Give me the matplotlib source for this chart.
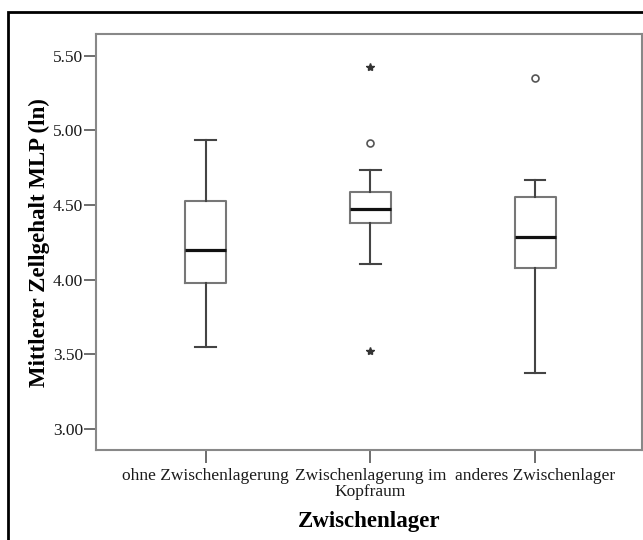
import matplotlib.pyplot as plt
from matplotlib.patches import Rectangle

# Gruppen und Kennwerte der Boxplots
gruppen = ["ohne Zwischenlagerung", "Zwischenlagerung im\nKopfraum", "anderes Zwischenlager"]
median = [4.20, 4.473, 4.284]
q1 = [3.975, 4.379, 4.078]
q3 = [4.524, 4.590, 4.554]
whisker_unten = [3.548, 4.104, 3.375]
whisker_oben = [4.932, 4.734, 4.665]
ausreisser = [[], [4.916], [5.35]]      # Kreise
extremwerte = [[], [5.424, 3.52], []]   # Sterne

plt.rcParams['font.family'] = ['Liberation Serif', 'DejaVu Serif']

fig = plt.figure(figsize=(6.43, 5.4), dpi=100)
ax = fig.add_axes([96.3 / 643, 1 - 450 / 540, (642 - 96.3) / 643, (450 - 34.3) / 540])

stats = []
for i in range(len(gruppen)):
    stats.append({'med': median[i], 'q1': q1[i], 'q3': q3[i],
                  'whislo': whisker_unten[i], 'whishi': whisker_oben[i],
                  'fliers': ausreisser[i]})

ax.bxp(stats, positions=[1, 2, 3], widths=0.25, showfliers=True,
       boxprops=dict(color='#777777', linewidth=1.5),
       medianprops=dict(color='#111111', linewidth=2.3),
       whiskerprops=dict(color='#444444', linewidth=1.5),
       capprops=dict(color='#444444', linewidth=1.5),
       flierprops=dict(marker='o', markerfacecolor='none', markeredgecolor='#555555',
                       markersize=5, markeredgewidth=1.2))

# Extremwerte als Sterne
for i, werte in enumerate(extremwerte):
    if werte:
        ax.plot([i + 1] * len(werte), werte, linestyle='none', marker='*',
                color='#333333', markersize=6)

ax.set_xlim(1 - 109.4 / 165, 3 + 107 / 165)
ax.set_ylim(2.859, 5.643)
ax.set_yticks([3.0, 3.5, 4.0, 4.5, 5.0, 5.5])
ax.set_yticklabels(["3.00", "3.50", "4.00", "4.50", "5.00", "5.50"])
ax.set_xticks([1, 2, 3])
ax.set_xticklabels(gruppen, linespacing=1.0)

for s in ax.spines.values():
    s.set_color('#888888')
    s.set_linewidth(1.5)
ax.tick_params(axis='both', colors='#555555', labelcolor='#1a1a1a', labelsize=12.5,
               length=9, width=1.2)
ax.tick_params(axis='y', pad=0.5)
ax.tick_params(axis='x', pad=4)

ax.set_ylabel("Mittlerer Zellgehalt MLP (ln)", fontsize=16.5, fontweight='bold', labelpad=2)
ax.set_xlabel("Zwischenlager", fontsize=16.5, fontweight='bold', labelpad=8)

# schwarzer Rahmen um die Grafik
fig.patches.append(Rectangle((8 / 643, -0.1), 1.2, 1 - 12 / 540 + 0.1,
                             transform=fig.transFigure, fill=False,
                             edgecolor='black', linewidth=2))

fig.savefig("out.png", dpi=100)
